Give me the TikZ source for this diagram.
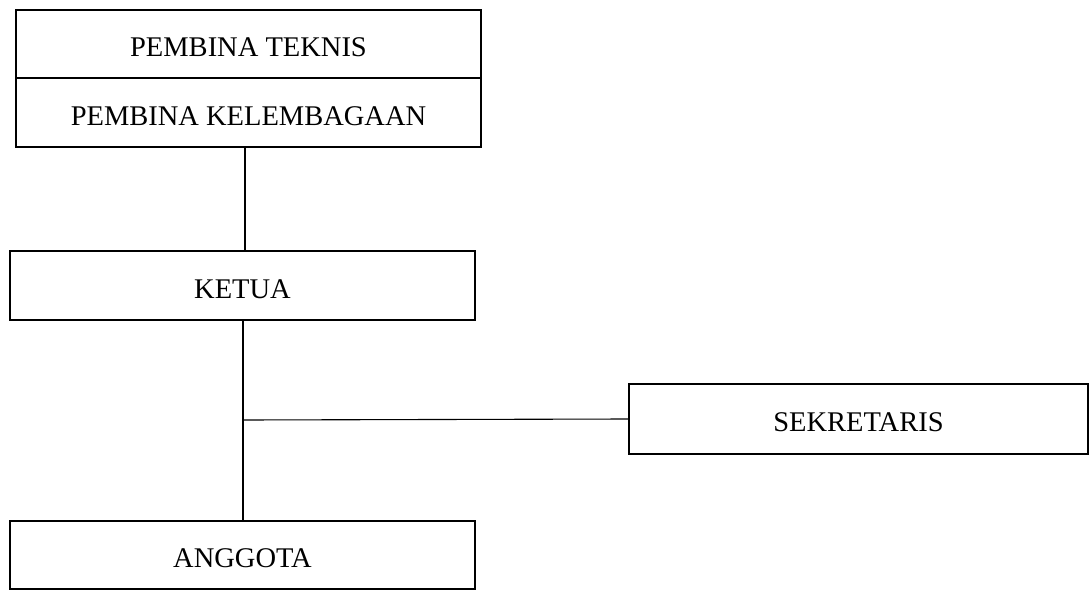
\documentclass[tikz,border=0pt]{standalone}
\usepackage{fontspec}
\setmainfont{Liberation Serif}
\begin{document}
\begin{tikzpicture}[x=1pt,y=-1pt,
  orgbox/.style={draw=black, line width=1.1pt, inner sep=0pt, text height=25pt, text depth=0pt, font=\fontsize{28.5}{32}\selectfont},
  link/.style={draw=black, line width=1.1pt}]
\useasboundingbox[fill=white] (0,0) rectangle (1089,591);
\node[orgbox, minimum width=465pt, minimum height=68pt] (teknis) at (248.5,44) {PEMBINA TEKNIS};
\node[orgbox, minimum width=465pt, minimum height=69pt] (lembaga) at (248.5,112.5) {PEMBINA KELEMBAGAAN};
\node[orgbox, minimum width=465pt, minimum height=69pt] (ketua) at (242.5,285.5) {KETUA};
\node[orgbox, minimum width=459pt, minimum height=70pt] (sekre) at (858.5,419) {SEKRETARIS};
\node[orgbox, minimum width=465pt, minimum height=68pt] (anggota) at (242.5,555) {ANGGOTA};
\coordinate (j) at (243,420);
\draw[link] (lembaga.south -| 245,0) -- (ketua.north -| 245,0);
\draw[link] (ketua.south -| j) -- (anggota.north -| j);
\draw[link] (j) -- (sekre.west);
\end{tikzpicture}
\end{document}
